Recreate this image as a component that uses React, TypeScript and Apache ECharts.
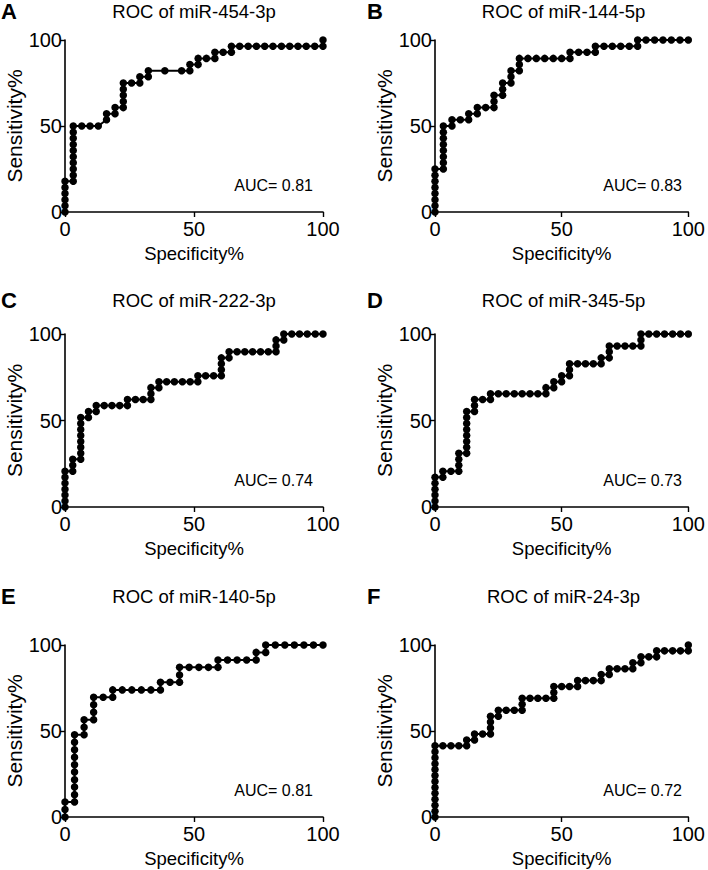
import React, { useEffect, useRef } from "react";
import * as echarts from "echarts";

// ---------- data ----------
const panelLetters = ["A", "B", "C", "D", "E", "F"];
const panelTitles = [
  "ROC of miR-454-3p",
  "ROC of miR-144-5p",
  "ROC of miR-222-3p",
  "ROC of miR-345-5p",
  "ROC of miR-140-5p",
  "ROC of miR-24-3p",
];
const aucLabels = ["AUC= 0.81", "AUC= 0.83", "AUC= 0.74", "AUC= 0.73", "AUC= 0.81", "AUC= 0.72"];
const axisTicks = [0, 50, 100];
const xAxisName = "Specificity%";
const yAxisName = "Sensitivity%";

// [100 - specificity %, sensitivity %]
const rocA: number[][] = [
  [0, 0], [0, 3.6], [0, 7.1], [0, 10.7], [0, 14.3], [0, 17.9],
  [3.2, 17.9], [3.2, 21.4], [3.2, 25], [3.2, 28.6], [3.2, 32.1], [3.2, 35.7], [3.2, 39.3], [3.2, 42.9], [3.2, 46.4], [3.2, 50],
  [6.5, 50], [9.7, 50], [12.9, 50], [16.1, 53.6], [16.1, 57.1], [19.4, 57.1], [19.4, 60.7],
  [22.6, 60.7], [22.6, 64.3], [22.6, 67.9], [22.6, 71.4], [22.6, 75], [25.8, 75], [29, 75], [29, 78.6],
  [32.3, 78.6], [32.3, 82.1], [38.7, 82.1], [45.2, 82.1], [48.4, 82.1], [48.4, 85.7], [51.6, 85.7], [51.6, 89.3],
  [54.8, 89.3], [58.1, 89.3], [58.1, 92.9], [61.3, 92.9], [64.5, 92.9], [64.5, 96.4],
  [67.7, 96.4], [71, 96.4], [74.2, 96.4], [77.4, 96.4], [80.6, 96.4], [83.9, 96.4], [87.1, 96.4], [90.3, 96.4],
  [93.5, 96.4], [96.8, 96.4], [100, 96.4], [100, 100],
];
const rocB: number[][] = [
  [0, 0], [0, 3.6], [0, 7.1], [0, 10.7], [0, 14.3], [0, 17.9], [0, 21.4], [0, 25],
  [3.3, 25], [3.3, 28.6], [3.3, 32.1], [3.3, 35.7], [3.3, 39.3], [3.3, 42.9], [3.3, 46.4], [3.3, 50],
  [6.7, 50], [6.7, 53.6], [10, 53.6], [13.3, 53.6], [13.3, 57.1], [16.7, 57.1], [16.7, 60.7], [20, 60.7],
  [23.3, 60.7], [23.3, 64.3], [23.3, 67.9], [26.7, 67.9], [26.7, 71.4], [26.7, 75], [30, 75], [30, 78.6], [30, 82.1],
  [33.3, 82.1], [33.3, 85.7], [33.3, 89.3], [36.7, 89.3], [40, 89.3], [43.3, 89.3], [46.7, 89.3], [50, 89.3],
  [53.3, 89.3], [53.3, 92.9], [56.7, 92.9], [60, 92.9], [63.3, 92.9], [63.3, 96.4], [66.7, 96.4], [70, 96.4],
  [73.3, 96.4], [76.7, 96.4], [80, 96.4], [80, 100], [83.3, 100], [86.7, 100], [90, 100], [93.3, 100], [96.7, 100], [100, 100],
];
const rocC: number[][] = [
  [0, 0], [0, 3.4], [0, 6.9], [0, 10.3], [0, 13.8], [0, 17.2], [0, 20.7],
  [3, 20.7], [3, 24.1], [3, 27.6],
  [6.1, 27.6], [6.1, 31], [6.1, 34.5], [6.1, 37.9], [6.1, 41.4], [6.1, 44.8], [6.1, 48.3], [6.1, 51.7],
  [9.1, 51.7], [9.1, 55.2], [12.1, 55.2], [12.1, 58.6], [15.2, 58.6], [18.2, 58.6], [21.2, 58.6], [24.2, 58.6],
  [24.2, 62.1], [27.3, 62.1], [30.3, 62.1], [33.3, 62.1], [33.3, 65.5], [33.3, 69], [36.4, 69], [36.4, 72.4],
  [39.4, 72.4], [42.4, 72.4], [45.5, 72.4], [48.5, 72.4], [51.5, 72.4], [51.5, 75.9], [54.5, 75.9], [57.6, 75.9],
  [60.6, 75.9], [60.6, 79.3], [60.6, 82.8], [60.6, 86.2], [63.6, 86.2], [63.6, 89.7], [66.7, 89.7], [69.7, 89.7],
  [72.7, 89.7], [75.8, 89.7], [78.8, 89.7], [81.8, 89.7], [81.8, 93.1], [81.8, 96.6], [84.8, 96.6], [84.8, 100],
  [87.9, 100], [90.9, 100], [93.9, 100], [97, 100], [100, 100],
];
const rocD: number[][] = [
  [0, 0], [0, 3.4], [0, 6.9], [0, 10.3], [0, 13.8], [0, 17.2],
  [3.1, 17.2], [3.1, 20.7], [6.3, 20.7], [9.4, 20.7], [9.4, 24.1], [9.4, 27.6], [9.4, 31],
  [12.5, 31], [12.5, 34.5], [12.5, 37.9], [12.5, 41.4], [12.5, 44.8], [12.5, 48.3], [12.5, 51.7], [12.5, 55.2],
  [15.6, 55.2], [15.6, 58.6], [15.6, 62.1], [18.8, 62.1], [21.9, 62.1], [21.9, 65.5],
  [25, 65.5], [28.1, 65.5], [31.3, 65.5], [34.4, 65.5], [37.5, 65.5], [40.6, 65.5], [43.8, 65.5], [43.8, 69],
  [46.9, 69], [46.9, 72.4], [50, 72.4], [50, 75.9], [53.1, 75.9], [53.1, 79.3], [53.1, 82.8],
  [56.3, 82.8], [59.4, 82.8], [62.5, 82.8], [65.6, 82.8], [65.6, 86.2], [68.8, 86.2], [68.8, 89.7], [68.8, 93.1],
  [71.9, 93.1], [75, 93.1], [78.1, 93.1], [81.3, 93.1], [81.3, 96.6], [81.3, 100],
  [84.4, 100], [87.5, 100], [90.6, 100], [93.8, 100], [96.9, 100], [100, 100],
];
const rocE: number[][] = [
  [0, 0], [0, 4.3], [0, 8.7],
  [3.7, 8.7], [3.7, 13], [3.7, 17.4], [3.7, 21.7], [3.7, 26.1], [3.7, 30.4], [3.7, 34.8], [3.7, 39.1], [3.7, 43.5], [3.7, 47.8],
  [7.4, 47.8], [7.4, 52.2], [7.4, 56.5], [11.1, 56.5], [11.1, 60.9], [11.1, 65.2], [11.1, 69.6],
  [14.8, 69.6], [18.5, 69.6], [18.5, 73.9], [22.2, 73.9], [25.9, 73.9], [29.6, 73.9], [33.3, 73.9], [37, 73.9],
  [37, 78.3], [40.7, 78.3], [44.4, 78.3], [44.4, 82.6], [44.4, 87], [48.1, 87], [51.9, 87], [55.6, 87], [59.3, 87],
  [59.3, 91.3], [63, 91.3], [66.7, 91.3], [70.4, 91.3], [74.1, 91.3], [74.1, 95.7], [77.8, 95.7], [77.8, 100],
  [81.5, 100], [85.2, 100], [88.9, 100], [92.6, 100], [96.3, 100], [100, 100],
];
const rocF: number[][] = [
  [0, 0], [0, 3.4], [0, 6.9], [0, 10.3], [0, 13.8], [0, 17.2], [0, 20.7], [0, 24.1], [0, 27.6], [0, 31], [0, 34.5], [0, 37.9], [0, 41.4],
  [3.1, 41.4], [6.3, 41.4], [9.4, 41.4], [12.5, 41.4], [12.5, 44.8], [15.6, 44.8], [15.6, 48.3], [18.8, 48.3],
  [21.9, 48.3], [21.9, 51.7], [21.9, 55.2], [21.9, 58.6], [25, 58.6], [25, 62.1], [28.1, 62.1], [31.3, 62.1],
  [34.4, 62.1], [34.4, 65.5], [34.4, 69], [37.5, 69], [40.6, 69], [43.8, 69], [46.9, 69], [46.9, 72.4], [46.9, 75.9],
  [50, 75.9], [53.1, 75.9], [56.3, 75.9], [56.3, 79.3], [59.4, 79.3], [62.5, 79.3], [65.6, 79.3], [65.6, 82.8],
  [68.8, 82.8], [68.8, 86.2], [71.9, 86.2], [75, 86.2], [78.1, 86.2], [78.1, 89.7], [81.3, 89.7], [81.3, 93.1],
  [84.4, 93.1], [87.5, 93.1], [87.5, 96.6], [90.6, 96.6], [93.8, 96.6], [96.9, 96.6], [100, 96.6], [100, 100],
];
const rocCurves = [rocA, rocB, rocC, rocD, rocE, rocF];

// ---------- layout ----------
const FONT = "Liberation Sans, Arial, sans-serif";
const colLefts = [65, 435];
const colWidths = [258, 257];
const rowTops = [40, 334, 645];
const rowHeights = [172, 173, 172];
const titleYs = [12, 301, 597];
const letterXs = [1, 367];

export default function App() {
  const ref = useRef<HTMLDivElement>(null);

  useEffect(() => {
    document.body.style.margin = "0";
    if (!ref.current) return;
    const chart = echarts.init(ref.current, undefined, { renderer: "svg" });

    const grids: any[] = [];
    const xAxes: any[] = [];
    const yAxes: any[] = [];
    const series: any[] = [];
    const titles: any[] = [];
    const graphics: any[] = [];

    for (let i = 0; i < 6; i++) {
      const col = i % 2;
      const row = Math.floor(i / 2);
      const left = colLefts[col];
      const width = colWidths[col];
      const top = rowTops[row];
      const height = rowHeights[row];
      grids.push({ left, top, width, height, containLabel: false });

      const axisCommon = {
        type: "value",
        min: 0,
        max: 100,
        interval: 50,
        gridIndex: i,
        splitLine: { show: false },
        axisLine: { show: true, onZero: false, lineStyle: { color: "#000", width: 1.6 } },
        axisTick: { show: true, inside: false, length: 5, lineStyle: { color: "#000", width: 1.4 } },
        nameLocation: "middle",
      };
      xAxes.push({
        ...axisCommon,
        name: xAxisName,
        nameGap: 32,
        nameTextStyle: { color: "#000", fontSize: 18.5, fontFamily: FONT },
        axisLabel: {
          color: "#000",
          fontSize: 20,
          fontFamily: FONT,
          margin: 7,
          customValues: axisTicks,
        },
      });
      yAxes.push({
        ...axisCommon,
        name: yAxisName,
        nameGap: 38,
        nameTextStyle: { color: "#000", fontSize: 21, fontFamily: FONT },
        axisLabel: {
          color: "#000",
          fontSize: 20,
          fontFamily: FONT,
          margin: 3,
        },
      });
      series.push({
        type: "line",
        xAxisIndex: i,
        yAxisIndex: i,
        data: rocCurves[i],
        symbol: "circle",
        symbolSize: 7.5,
        showSymbol: true,
        clip: false,
        lineStyle: { color: "#000", width: 2 },
        itemStyle: { color: "#000" },
        silent: true,
      });
      titles.push({
        text: panelTitles[i],
        left: left + width / 2,
        top: titleYs[row] - 10,
        textAlign: "center",
        padding: 0,
        textStyle: { color: "#000", fontSize: 18.5, fontWeight: "normal", fontFamily: FONT },
      });
      graphics.push({
        type: "text",
        left: letterXs[col],
        top: titleYs[row] - 12,
        style: { text: panelLetters[i], fill: "#000", font: `bold 22px ${FONT}` },
      });
      graphics.push({
        type: "text",
        x: left + width - 10,
        y: top + height - 27,
        style: {
          text: aucLabels[i],
          fill: "#000",
          font: `16px ${FONT}`,
          textAlign: "right",
          textVerticalAlign: "middle",
        },
      });
    }

    chart.setOption({
      animation: false,
      backgroundColor: "#fff",
      title: titles,
      grid: grids,
      xAxis: xAxes,
      yAxis: yAxes,
      series,
      graphic: graphics,
    });

    return () => chart.dispose();
  }, []);

  return <div ref={ref} style={{ width: 708, height: 870 }} />;
}
